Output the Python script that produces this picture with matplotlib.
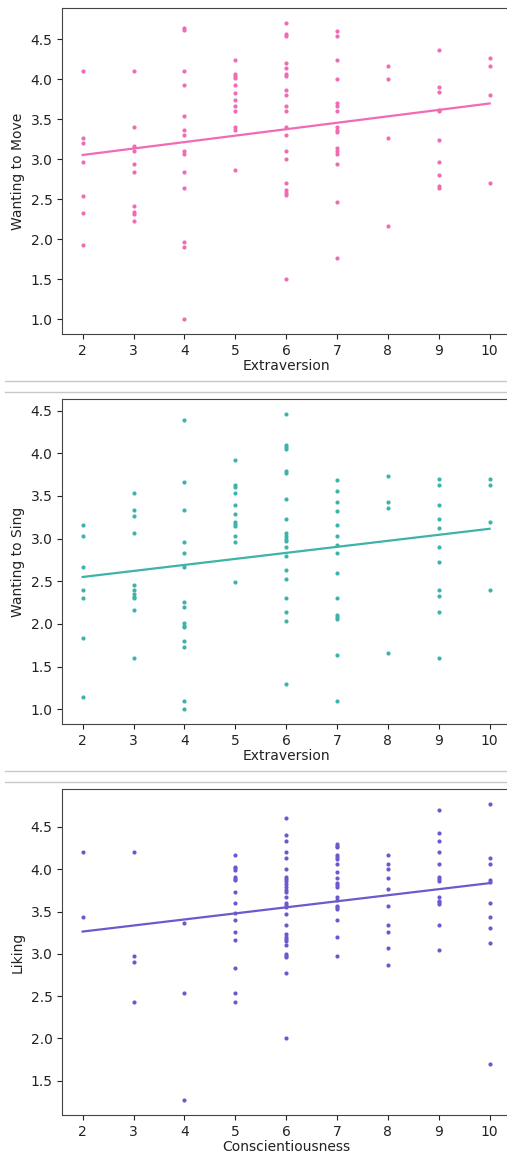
import numpy as np
import matplotlib
matplotlib.use("Agg")
import matplotlib.pyplot as plt
from matplotlib.lines import Line2D

# ---------------- data ----------------
move_by_extraversion = {
    2: [4.10, 3.27, 3.20, 2.97, 2.54, 2.33, 1.93],
    3: [4.10, 3.40, 3.17, 3.10, 2.94, 2.84, 2.41, 2.34, 2.31, 2.23],
    4: [4.64, 4.61, 4.10, 3.93, 3.54, 3.37, 3.30, 3.10, 3.07, 2.84, 2.64, 1.96, 1.90, 1.00],
    5: [4.24, 4.07, 4.04, 4.01, 3.93, 3.83, 3.74, 3.67, 3.60, 3.40, 3.37, 2.87],
    6: [4.70, 4.57, 4.54, 4.20, 4.14, 4.07, 4.04, 3.87, 3.80, 3.67, 3.60, 3.40, 3.30,
        3.10, 3.00, 2.70, 2.61, 2.58, 2.55, 1.50],
    7: [4.60, 4.54, 4.24, 4.00, 3.70, 3.67, 3.60, 3.40, 3.37, 3.34, 3.14, 3.10, 3.07,
        2.94, 2.46, 1.76],
    8: [4.17, 4.00, 3.27, 2.17],
    9: [4.37, 3.90, 3.84, 3.62, 3.60, 3.24, 2.97, 2.80, 2.67, 2.64],
    10: [4.27, 4.17, 3.80, 2.70],
}

sing_by_extraversion = {
    2: [3.16, 3.03, 2.67, 2.40, 2.30, 1.83, 1.14],
    3: [3.53, 3.33, 3.26, 3.06, 2.46, 2.40, 2.35, 2.32, 2.30, 2.16, 1.60],
    4: [4.39, 3.66, 3.33, 2.96, 2.83, 2.67, 2.26, 2.20, 2.01, 1.98, 1.96, 1.80, 1.73, 1.10, 1.00],
    5: [3.92, 3.63, 3.60, 3.53, 3.39, 3.29, 3.19, 3.17, 3.15, 3.03, 2.96, 2.49],
    6: [4.46, 4.10, 4.07, 4.05, 3.79, 3.77, 3.46, 3.23, 3.06, 3.03, 3.00, 2.97, 2.90,
        2.80, 2.63, 2.53, 2.30, 2.14, 2.04, 1.30],
    7: [3.69, 3.56, 3.43, 3.32, 3.16, 3.03, 2.93, 2.83, 2.60, 2.30, 2.10, 2.08, 2.06, 1.63, 1.10],
    8: [3.73, 3.43, 3.36, 1.66],
    9: [3.70, 3.63, 3.39, 3.23, 3.13, 2.90, 2.73, 2.40, 2.33, 2.14, 1.60],
    10: [3.70, 3.63, 3.19, 2.40],
}

liking_by_conscientiousness = {
    2: [4.20, 3.44],
    3: [4.20, 2.97, 2.90, 2.43],
    4: [3.36, 2.54, 1.27],
    5: [4.17, 4.03, 4.01, 3.99, 3.91, 3.89, 3.87, 3.73, 3.60, 3.48, 3.40, 3.26, 3.16,
        2.83, 2.54, 2.43],
    6: [4.60, 4.40, 4.33, 4.20, 4.13, 4.00, 3.91, 3.89, 3.86, 3.83, 3.79, 3.75, 3.73,
        3.67, 3.60, 3.58, 3.55, 3.47, 3.34, 3.23, 3.20, 3.18, 3.15, 3.11, 3.00, 2.98,
        2.96, 2.77, 2.00],
    7: [4.30, 4.28, 4.26, 4.17, 4.14, 4.12, 4.06, 3.97, 3.90, 3.84, 3.81, 3.79, 3.67,
        3.64, 3.57, 3.55, 3.53, 3.40, 3.20, 2.97],
    8: [4.17, 4.06, 4.00, 3.90, 3.77, 3.56, 3.34, 3.26, 3.07, 2.87],
    9: [4.70, 4.43, 4.33, 4.20, 4.06, 3.91, 3.89, 3.86, 3.67, 3.63, 3.61, 3.59, 3.34, 3.04],
    10: [4.77, 4.13, 4.06, 3.87, 3.85, 3.60, 3.43, 3.30, 3.13, 1.70],
}

x_labels = ["Extraversion", "Extraversion", "Conscientiousness"]
y_labels = ["Wanting to Move", "Wanting to Sing", "Liking"]
colors = ["#f06ab4", "#3db3a9", "#6a5acd"]
x_ticks = [2, 3, 4, 5, 6, 7, 8, 9, 10]
datasets = [move_by_extraversion, sing_by_extraversion, liking_by_conscientiousness]

# ---------------- figure ----------------
W, H = 507, 1154
fig = plt.figure(figsize=(W / 100, H / 100), dpi=100)

# (top, bottom) pixel extents of each axes
extents = [(8.3, 334.0), (399.3, 724.0), (789.3, 1115.0)]
left_px, right_px = 62.3, 510.0

for data, xl, yl, col, (top, bot) in zip(datasets, x_labels, y_labels, colors, extents):
    ax = fig.add_axes([left_px / W, 1 - bot / H, (right_px - left_px) / W, (bot - top) / H])
    xs = np.concatenate([[k] * len(v) for k, v in data.items()]).astype(float)
    ys = np.concatenate([v for v in data.values()]).astype(float)
    ax.scatter(xs, ys, s=9, color=col, linewidths=0, zorder=3)
    slope, intercept = np.polyfit(xs, ys, 1)
    xx = np.array([xs.min(), xs.max()])
    ax.plot(xx, slope * xx + intercept, color=col, lw=1.6, zorder=2)
    ax.set_xticks(x_ticks)
    ax.set_xlabel(xl, fontsize=10, color="#222222", labelpad=1.2)
    ax.set_ylabel(yl, fontsize=10, color="#222222")
    ax.tick_params(labelsize=10, colors="#222222")
    for sp in ax.spines.values():
        sp.set_color("#444444")

# separator lines between the stacked panels
for y in (380.7, 391.7, 771.0, 782.3):
    fig.add_artist(Line2D([5 / W, 1.0], [1 - y / H, 1 - y / H],
                          color="#c8c8c8", lw=1.0, transform=fig.transFigure))

fig.savefig("out.png", dpi=100)
